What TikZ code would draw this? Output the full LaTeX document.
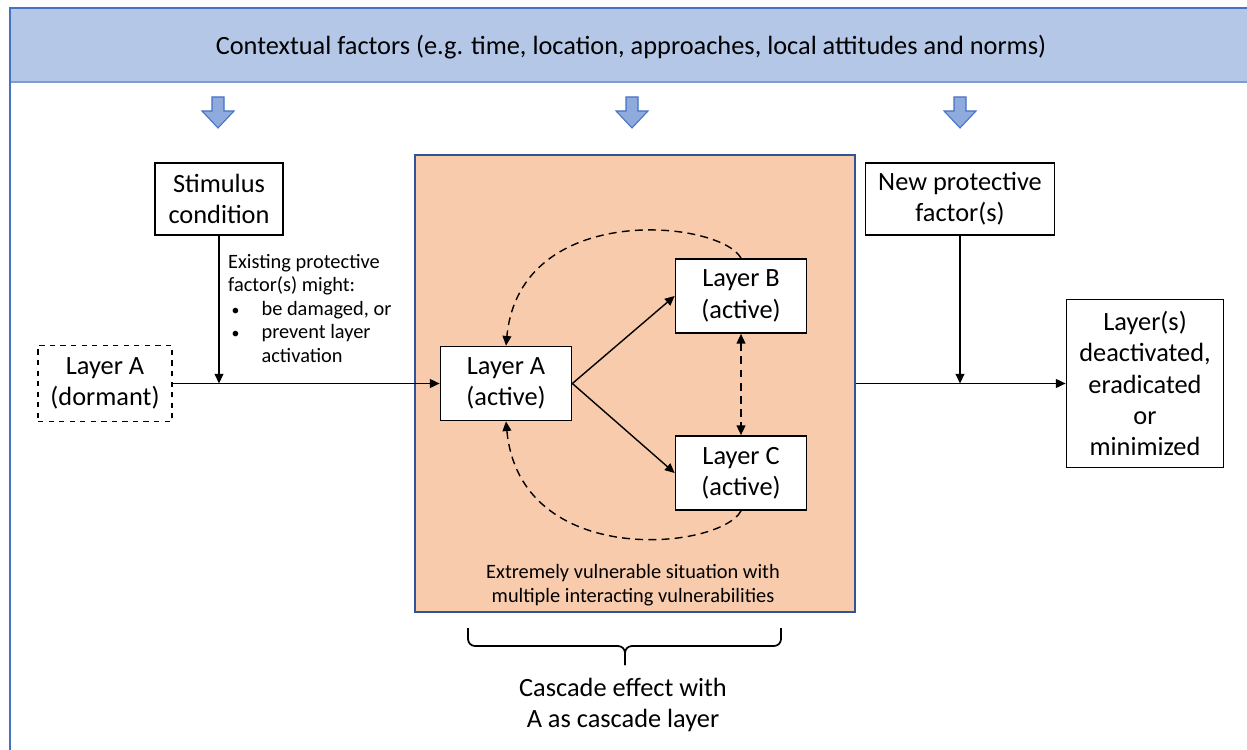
\documentclass[tikz,border=0pt]{standalone}
\usepackage{fontspec}
\setmainfont{Carlito}
\usetikzlibrary{arrows.meta,positioning}
\definecolor{headblue}{HTML}{B4C7E7}
\definecolor{frameblue}{HTML}{4472C4}
\definecolor{arrowblue}{HTML}{8FAADC}
\definecolor{zoneorange}{HTML}{F8CBAD}
\definecolor{zoneedge}{HTML}{2F5597}
\newcommand{\boxfont}{\fontsize{15}{17.8}\selectfont}
\newcommand{\notefont}{\fontsize{11.6}{13.4}\selectfont}
\newcommand{\notebullet}{\hspace*{2pt}\rlap{\small\textbullet}\hspace*{17pt}}
\tikzset{
  layerbox/.style={draw, line width=1pt, fill=white, align=center, font=\boxfont, inner sep=0pt},
  activebox/.style={layerbox, minimum width=2.62cm, minimum height=1.48cm},
  conn/.style={line width=0.8pt, -{Triangle[length=5.5pt, width=5pt]}},
  dashconn/.style={line width=0.8pt, dash pattern=on 4.5pt off 3pt}
}
\begin{document}
\begin{tikzpicture}[x=0.02cm, y=-0.02cm]
    \useasboundingbox (0,0) rectangle (1247,750);

    % Frame and header
    \fill[headblue] (10,8) rectangle (1247,82);
    \draw[frameblue!70, line width=0.8pt] (10,82) -- (1247,82);
    \draw[frameblue, line width=1.5pt] (10,750) -- (10,8) -- (1247,8);
    \node[font=\boxfont] (context) at (631,47) {Contextual factors (e.g. time, location, approaches, local attitudes and norms)};
    \foreach \x in {218,632,960}
        \draw[fill=arrowblue, draw=frameblue, line width=0.6pt] (\x-6,97) -- (\x+6,97) -- (\x+6,111) -- (\x+16,111) -- (\x,128) -- (\x-16,111) -- (\x-6,111) -- cycle;

    % Vulnerable zone
    \node[draw=zoneedge, fill=zoneorange, line width=0.8pt, minimum width=8.8cm, minimum height=9.14cm] (zone) at (635,383.5) {};
    \node[font=\notefont, align=center] (zonetext) at (633,585) {Extremely vulnerable situation with\\multiple interacting vulnerabilities};

    % Boxes
    \node[layerbox, minimum width=2.56cm, minimum height=1.44cm] (stim) at (219,199) {Stimulus\\condition};
    \node[layerbox, dashed, minimum width=2.68cm, minimum height=1.52cm] (dorm) at (105,383.5) {Layer A\\(dormant)};
    \node[activebox] (la) at (506,383.5) {Layer A\\(active)};
    \node[activebox] (lb) at (741,296) {Layer B\\(active)};
    \node[activebox] (lc) at (741,473) {Layer C\\(active)};
    \node[layerbox, minimum width=3.78cm, minimum height=1.44cm] (newp) at (960,199) {New protective\\factor(s)};
    \node[layerbox, minimum width=3.14cm, minimum height=3.36cm] (result) at (1145,383.5) {Layer(s)\\deactivated,\\eradicated\\or\\minimized};

    % Protective factor note
    \node[font=\notefont, align=left, anchor=north west] (note) at (222,248) {Existing protective\\factor(s) might:\\\notebullet be damaged, or\\\notebullet prevent layer\\\hspace*{19pt}activation};

    % Connectors
    \coordinate (join1) at (stim.south |- dorm.east);
    \coordinate (join2) at (newp.south |- zone.east);
    \draw[conn] (dorm.east) -- (la.west);
    \draw[conn] (stim.south) -- (join1);
    \draw[conn] (zone.east) -- (result.west);
    \draw[conn] (newp.south) -- (join2);
    \draw[conn] (la.east) -- (lb.west);
    \draw[conn] (la.east) -- (lc.west);
    \draw[dashconn, {Triangle[length=5.5pt, width=5pt]}-{Triangle[length=5.5pt, width=5pt]}] (lb.south) -- (lc.north);
    \draw[dashconn, -{Triangle[length=5.5pt, width=5pt]}] (lb.north) .. controls (720,220) and (520,200) .. (la.north);
    \draw[dashconn, -{Triangle[length=5.5pt, width=5pt]}] (lc.south) .. controls (720,550) and (520,570) .. (la.south);

    % Brace
    \draw[line width=1pt, rounded corners=4pt] (468,628) |- (625,646) -- (625,665);
    \draw[line width=1pt, rounded corners=4pt] (781,628) |- (625,646) -- (625,665);
    \node[font=\boxfont, align=center] (cascade) at (623,705) {Cascade effect with\\A as cascade layer};
\end{tikzpicture}
\end{document}
